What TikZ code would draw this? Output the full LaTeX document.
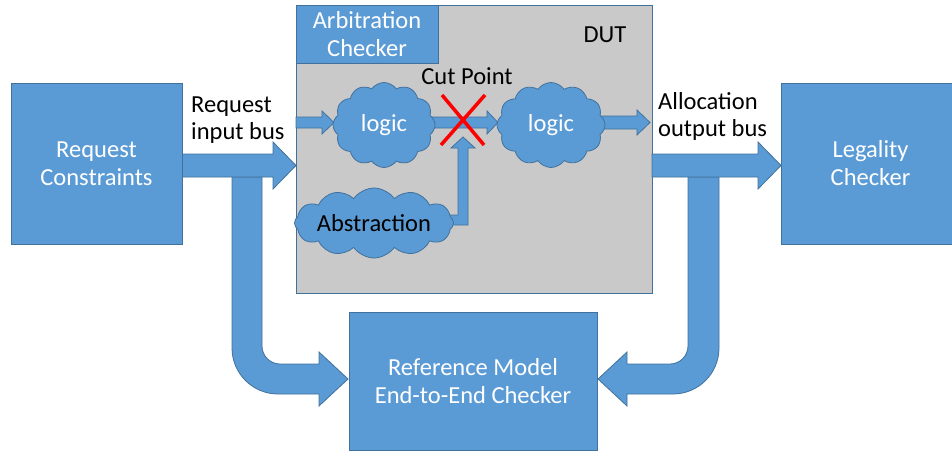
\documentclass[tikz,border=0pt]{standalone}
\usepackage{fontspec}
\setmainfont{Carlito}
\usetikzlibrary{shapes.symbols}
\definecolor{boxblue}{RGB}{91,155,213}
\definecolor{edgeblue}{RGB}{65,113,156}
\definecolor{dutgray}{RGB}{201,201,201}
\begin{document}
\begin{tikzpicture}[x=1pt,y=-1pt,
  blk/.style={fill=boxblue,draw=edgeblue,line width=0.8pt},
  boxnode/.style={blk,rectangle,inner sep=0pt,text=white,font=\fontsize{24.5}{28}\selectfont,align=center},
  lbl/.style={text=black,font=\fontsize{24.5}{27}\selectfont,align=left,inner sep=0pt},
  puff/.style={cloud,cloud puffs=12,cloud puff arc=110,cloud ignores aspect,fill=boxblue,draw=edgeblue,line width=0.8pt,inner sep=0pt,font=\fontsize{24.5}{27}\selectfont},
  cutx/.style={draw=red,line width=3.5pt}
]
\useasboundingbox (0,0) rectangle (952,452);
\clip (0,0) rectangle (952,452);

% DUT and arbitration checker
\node[draw=edgeblue,line width=0.8pt,fill=dutgray,rectangle,minimum width=356pt,minimum height=288pt,inner sep=0pt] (dut) at (474,149) {};
\node[boxnode,minimum width=142pt,minimum height=58pt] (arb) at (367,34) {Arbitration\\Checker};
\node[lbl] (dutlbl) at (605,35) {DUT};

% big L-shaped arrows
\draw[blk] (232,177) -- (232,348) .. controls (232,373.4) and (252.6,394) .. (278,394)
  -- (319,394) -- (319,406) -- (348,379) -- (319,352) -- (319,364) -- (280,364)
  .. controls (270.1,364) and (262,355.9) .. (262,346) -- (262,177) -- cycle;
\draw[blk] (688,177) -- (688,346) .. controls (688,355.9) and (679.9,364) .. (670,364)
  -- (627,364) -- (627,352) -- (598,379) -- (627,406) -- (627,394) -- (673,394)
  .. controls (698.4,394) and (719,373.4) .. (719,348) -- (719,177) -- cycle;

% big horizontal arrows
\draw[blk] (178,154) -- (273,154) -- (273,142) -- (296,165.5) -- (273,189) -- (273,177) -- (178,177) -- cycle;
\draw[blk] (652,154) -- (758,154) -- (758,142) -- (781,165.5) -- (758,189) -- (758,177) -- (652,177) -- cycle;

% boxes
\node[boxnode,minimum width=171pt,minimum height=161pt] (rc) at (96.5,163.5) {Request\\Constraints};
\node[boxnode,minimum width=179pt,minimum height=161pt] (lc) at (870.5,163.5) {Legality\\Checker};
\node[boxnode,minimum width=248pt,minimum height=138pt] (ref) at (473,381) {Reference Model\\End-to-End Checker};

% labels
\node[lbl,anchor=west] (inbus) at (191,120) {Request\\input bus};
\node[lbl,anchor=west] (outbus) at (658,116) {Allocation\\output bus};
\node[lbl] (cut) at (467,76) {Cut Point};

% small arrows inside DUT
\draw[blk] (296,117) -- (322,117) -- (322,111) -- (334,122.5) -- (322,134) -- (322,128) -- (296,128) -- cycle;
\draw[blk] (430,117) -- (487,117) -- (487,111) -- (498,122.5) -- (487,134) -- (487,128) -- (430,128) -- cycle;
\draw[blk] (598,116) -- (637,116) -- (637,110) -- (650,122.5) -- (637,135) -- (637,129) -- (598,129) -- cycle;
\draw[blk] (438,215) -- (458,215) -- (458,148) -- (451,148) -- (463,137) -- (475,148) -- (468,148) -- (468,225) -- (438,225) -- cycle;

% clouds
\node[puff,minimum width=102pt,minimum height=85pt,text=white] (l1) at (384,125) {logic};
\node[puff,minimum width=108pt,minimum height=85pt,text=white] (l2) at (551,125) {logic};
\node[puff,minimum width=145pt,minimum height=70pt,text=black] (abs) at (374,223) {Abstraction};

% cut point cross
\draw[cutx] (442,95) -- (484,145);
\draw[cutx] (485,95) -- (441,145);
\end{tikzpicture}
\end{document}
